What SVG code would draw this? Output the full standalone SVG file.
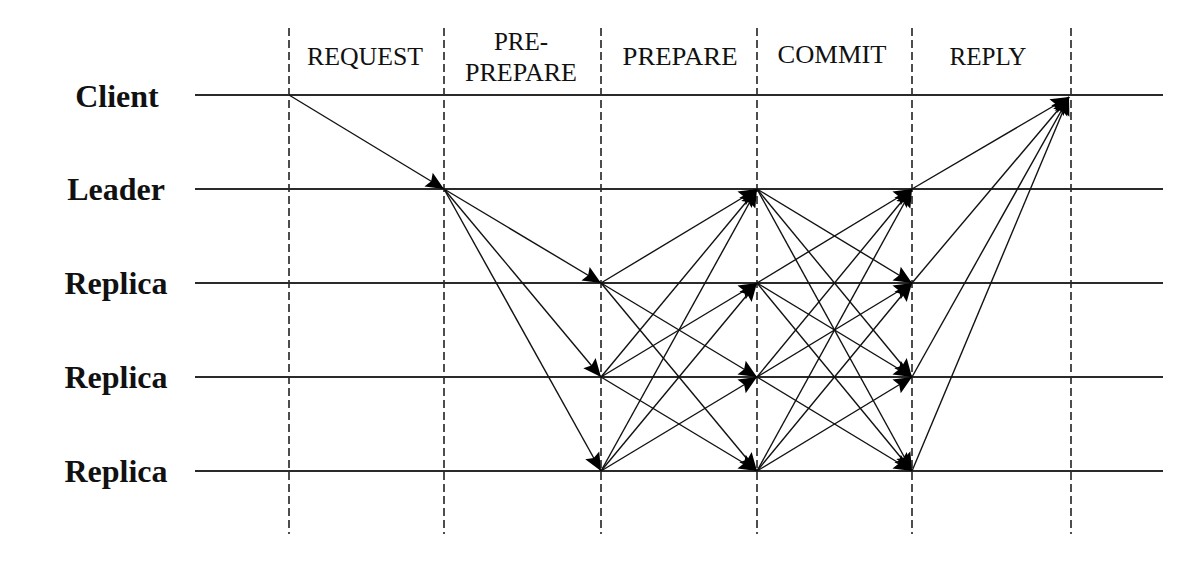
<svg xmlns="http://www.w3.org/2000/svg" width="1188" height="574" viewBox="0 0 1188 574">
<style>
.lbl{font-family:"Liberation Serif","Times New Roman",serif;font-weight:bold;font-size:32px;fill:#111;text-anchor:middle}
.hdr{font-family:"Liberation Serif","Times New Roman",serif;font-size:25px;fill:#111;text-anchor:middle}
.tl{stroke:#2a2a2a;stroke-width:2;fill:none}
.ph{stroke:#222;stroke-width:1.6;stroke-dasharray:8 4;fill:none}
.msg{stroke:#111;stroke-width:1.4;fill:none;marker-end:url(#ah)}
</style>
<defs>
<marker id="ah" viewBox="-19 -9 20 18" refX="0" refY="0" markerWidth="20" markerHeight="18" markerUnits="userSpaceOnUse" orient="auto">
<path d="M0,0 L-18,-8 L-15,0 L-18,8 Z" fill="#000"/>
</marker>
</defs>
<rect width="1188" height="574" fill="#fff"/>
<g id="phases">
<line class="ph" x1="289" y1="28" x2="289" y2="534"/>
<line class="ph" x1="444" y1="28" x2="444" y2="534"/>
<line class="ph" x1="601" y1="28" x2="601" y2="534"/>
<line class="ph" x1="757" y1="28" x2="757" y2="534"/>
<line class="ph" x1="912" y1="28" x2="912" y2="534"/>
<line class="ph" x1="1071" y1="28" x2="1071" y2="534"/>
<text class="hdr" x="365" y="65" textLength="116" lengthAdjust="spacingAndGlyphs">REQUEST</text>
<text class="hdr" x="521" y="50">PRE-</text>
<text class="hdr" x="521" y="81" textLength="112" lengthAdjust="spacingAndGlyphs">PREPARE</text>
<text class="hdr" x="680" y="65" textLength="115" lengthAdjust="spacingAndGlyphs">PREPARE</text>
<text class="hdr" x="832" y="63" textLength="109" lengthAdjust="spacingAndGlyphs">COMMIT</text>
<text class="hdr" x="988" y="65" textLength="77" lengthAdjust="spacingAndGlyphs">REPLY</text>
</g>
<g id="client"><line class="tl" x1="195" y1="95" x2="1163" y2="95"/><text class="lbl" x="117" y="107">Client</text></g>
<g id="leader"><line class="tl" x1="195" y1="189" x2="1163" y2="189"/><text class="lbl" x="116" y="200">Leader</text></g>
<g id="replica1"><line class="tl" x1="195" y1="283" x2="1163" y2="283"/><text class="lbl" x="116" y="294">Replica</text></g>
<g id="replica2"><line class="tl" x1="195" y1="377" x2="1163" y2="377"/><text class="lbl" x="116" y="388">Replica</text></g>
<g id="replica3"><line class="tl" x1="195" y1="471" x2="1163" y2="471"/><text class="lbl" x="116" y="482">Replica</text></g>
<g id="connectors">
<line class="msg" x1="289" y1="95" x2="444" y2="189"/>
<line class="msg" x1="444" y1="189" x2="601" y2="283"/>
<line class="msg" x1="444" y1="189" x2="601" y2="377"/>
<line class="msg" x1="444" y1="189" x2="601" y2="471"/>
<line class="msg" x1="601" y1="283" x2="757" y2="189"/>
<line class="msg" x1="601" y1="283" x2="757" y2="377"/>
<line class="msg" x1="601" y1="283" x2="757" y2="471"/>
<line class="msg" x1="601" y1="377" x2="757" y2="189"/>
<line class="msg" x1="601" y1="377" x2="757" y2="283"/>
<line class="msg" x1="601" y1="377" x2="757" y2="471"/>
<line class="msg" x1="601" y1="471" x2="757" y2="189"/>
<line class="msg" x1="601" y1="471" x2="757" y2="283"/>
<line class="msg" x1="601" y1="471" x2="757" y2="377"/>
<line class="msg" x1="757" y1="189" x2="912" y2="283"/>
<line class="msg" x1="757" y1="189" x2="912" y2="377"/>
<line class="msg" x1="757" y1="189" x2="912" y2="471"/>
<line class="msg" x1="757" y1="283" x2="912" y2="189"/>
<line class="msg" x1="757" y1="283" x2="912" y2="377"/>
<line class="msg" x1="757" y1="283" x2="912" y2="471"/>
<line class="msg" x1="757" y1="377" x2="912" y2="189"/>
<line class="msg" x1="757" y1="377" x2="912" y2="283"/>
<line class="msg" x1="757" y1="377" x2="912" y2="471"/>
<line class="msg" x1="757" y1="471" x2="912" y2="189"/>
<line class="msg" x1="757" y1="471" x2="912" y2="283"/>
<line class="msg" x1="757" y1="471" x2="912" y2="377"/>
<line class="msg" x1="912" y1="189" x2="1069" y2="97"/>
<line class="msg" x1="912" y1="283" x2="1069" y2="97"/>
<line class="msg" x1="912" y1="377" x2="1069" y2="97"/>
<line class="msg" x1="912" y1="471" x2="1069" y2="97"/>
</g>
</svg>
